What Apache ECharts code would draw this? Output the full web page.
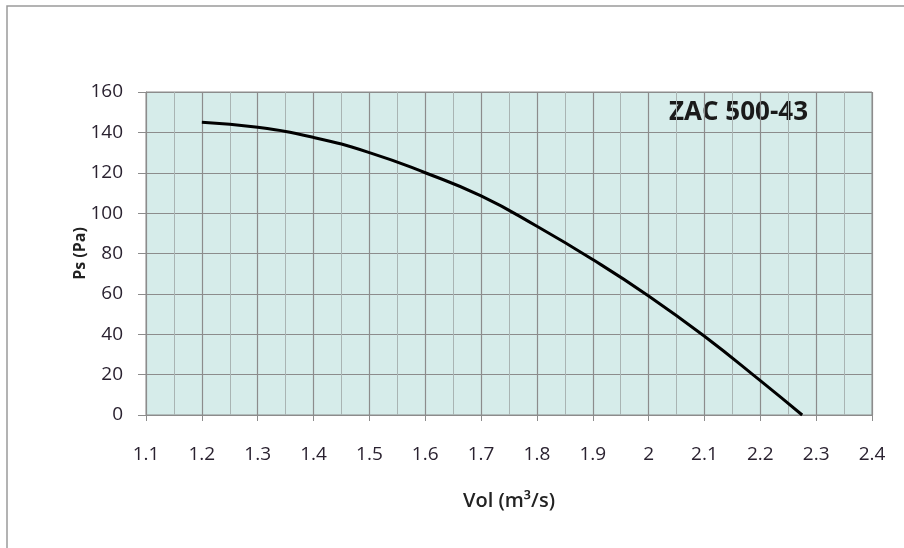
<!DOCTYPE html>
<html>
<head>
<meta charset="utf-8">
<script src="https://cdn.jsdelivr.net/npm/echarts@6/dist/echarts.min.js"></script>
<style>
  html, body { margin: 0; padding: 0; background: #fff; }
  #chart { width: 904px; height: 548px; }
</style>
</head>
<body>
<div id="chart"></div>
<script>
// fan curve
const volume = [1.2, 1.3, 1.4, 1.5, 1.6, 1.7, 1.8, 1.9, 2.0, 2.1, 2.2, 2.275]
const pressure = [145, 142.5, 137.5, 130, 120, 108.5, 93.5, 77, 59, 39, 17, 0]
const xTicks = { min: 1.1, max: 2.4, step: 0.1 }
const yTicks = { min: 0, max: 160, step: 20 }
const modelName = 'ZAC 500-43'

const font = '"Open Sans", "Liberation Sans", sans-serif'
const c = echarts.init(document.getElementById('chart'), null, { renderer: 'canvas' })

c.setOption({
  animation: false,
  backgroundColor: '#fff',
  graphic: [
    { type: 'rect', shape: { x: 7, y: 6, width: 920, height: 560 }, style: { fill: 'none', stroke: '#9a9a9a', lineWidth: 1.5 } },
    { type: 'text', left: 669, top: 100, style: { text: modelName, font: 'bold 26px ' + font, fill: '#1a1a1a' } }
  ],
  grid: {
    left: 146, right: 32, top: 92, bottom: 133,
    show: true, backgroundColor: '#d6ecea', borderColor: '#8c8c8c', borderWidth: 1
  },
  xAxis: {
    type: 'value', min: xTicks.min, max: xTicks.max, interval: xTicks.step,
    name: 'Vol (m³/s)', nameLocation: 'middle', nameGap: 76, nameMoveOverlap: false,
    nameTextStyle: { fontFamily: font, fontSize: 20, fontWeight: 600, color: '#222' },
    axisLine: { show: true, lineStyle: { color: '#8c8c8c', width: 1 } },
    axisTick: { show: true, length: 6, lineStyle: { color: '#8c8c8c' } },
    axisLabel: { fontFamily: font, fontSize: 19, color: '#2a2230', margin: 30, formatter: v => +v.toFixed(1) + '' },
    splitLine: { show: true, lineStyle: { color: '#8c8c8c', width: 1.2 } },
    minorTick: { show: false, splitNumber: 2 },
    minorSplitLine: { show: true, lineStyle: { color: '#a9b4b3', width: 1 } }
  },
  yAxis: {
    type: 'value', min: yTicks.min, max: yTicks.max, interval: yTicks.step,
    name: 'Ps (Pa)', nameLocation: 'middle', nameGap: 58, nameRotate: 90, nameMoveOverlap: false,
    nameTextStyle: { fontFamily: font, fontSize: 16, fontWeight: 'bold', color: '#222' },
    axisLine: { show: true, lineStyle: { color: '#8c8c8c', width: 1 } },
    axisTick: { show: true, length: 8, lineStyle: { color: '#8c8c8c' } },
    axisLabel: { fontFamily: font, fontSize: 19, color: '#2a2230', margin: 23 },
    splitLine: { show: true, lineStyle: { color: '#8c8c8c', width: 1.2 } }
  },
  series: [{
    type: 'line',
    data: volume.map((v, i) => [v, pressure[i]]),
    smooth: 0.5,
    symbol: 'none',
    lineStyle: { color: '#000', width: 3 }
  }]
})
</script>
</body>
</html>
